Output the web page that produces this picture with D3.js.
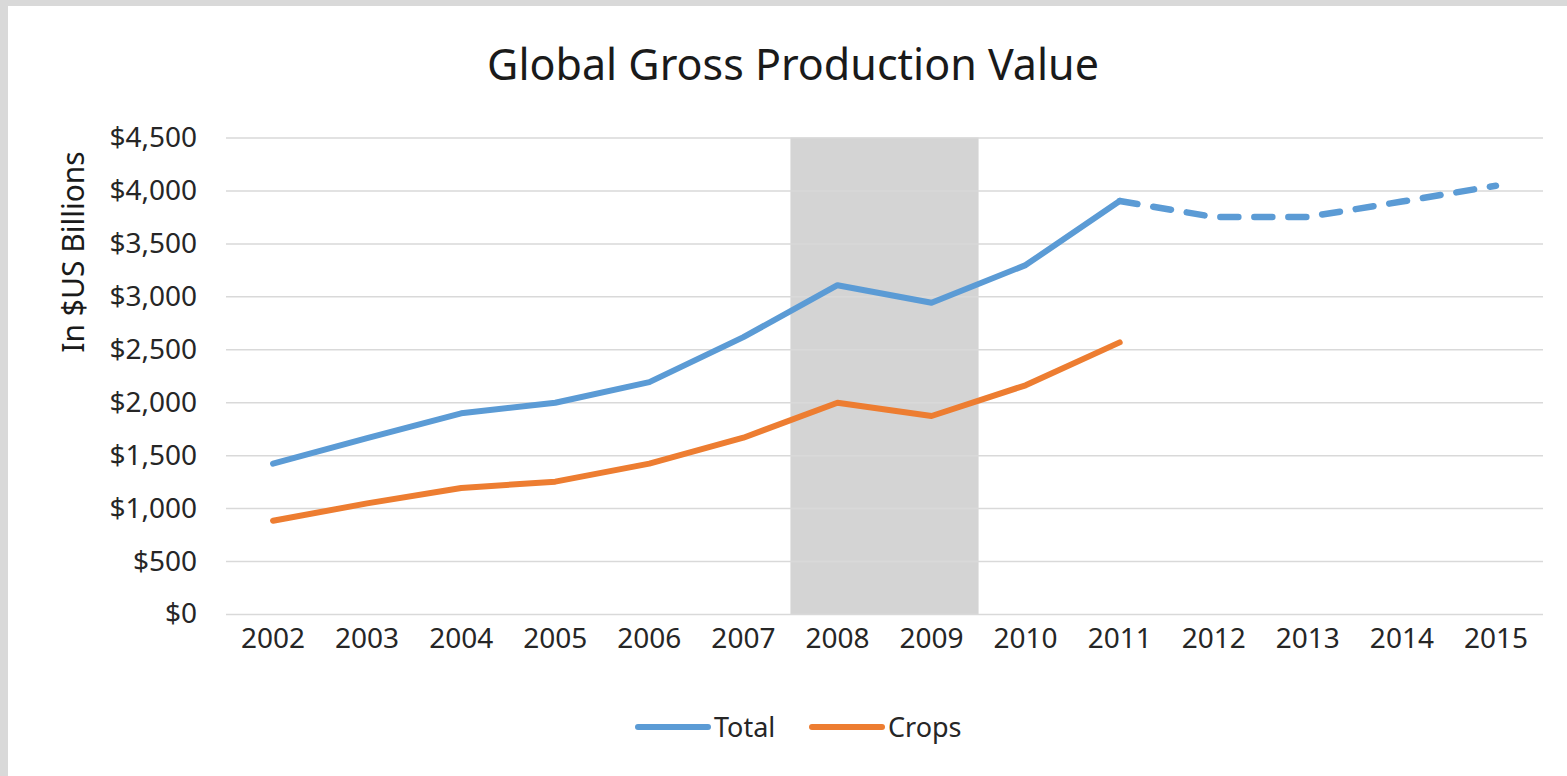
<!DOCTYPE html>
<html>
<head>
<meta charset="utf-8">
<script src="https://cdn.jsdelivr.net/npm/d3@7"></script>
<style>
  body { margin: 0; background: #fff; }
  text { font-family: "Noto Sans", sans-serif; fill: #262626; }
</style>
</head>
<body>
<script>
// chart data
var years = ["2002","2003","2004","2005","2006","2007","2008","2009","2010","2011","2012","2013","2014","2015"];
var totalValues = [1420, 1660, 1895, 1995, 2190, 2615, 3105, 2940, 3295, 3900, 3750, 3750, 3895, 4045];
var cropValues = [880, 1045, 1190, 1250, 1420, 1665, 1995, 1870, 2160, 2565];
var projectionStart = "2011";
var shadedYears = ["2008", "2009"];
var yTicks = [0, 500, 1000, 1500, 2000, 2500, 3000, 3500, 4000, 4500];
var seriesNames = ["Total", "Crops"];

var W = 1567, H = 776;
var blue = "#5b9bd5", orange = "#ed7d31";

var svg = d3.select("body").append("svg")
  .attr("width", W)
  .attr("height", H);

// outer frame
svg.append("rect").attr("width", W).attr("height", H).attr("fill", "#d9d9d9");
svg.append("rect").attr("x", 8).attr("y", 6).attr("width", W - 8).attr("height", H - 6).attr("fill", "#fff");

var x = d3.scaleBand().domain(years).range([226, 1543]).padding(0);
var y = d3.scaleLinear().domain([0, 4500]).range([614, 137.5]);
var cx = function(d) { return x(d) + x.bandwidth() / 2; };

// recession band
svg.append("rect")
  .attr("x", x(shadedYears[0]))
  .attr("y", y(4500))
  .attr("width", x(shadedYears[1]) + x.bandwidth() - x(shadedYears[0]))
  .attr("height", y(0) - y(4500))
  .attr("fill", "#d4d4d4");

// gridlines
var yAxis = d3.axisLeft(y).tickValues(yTicks)
  .tickSize(-(1543 - 226))
  .tickPadding(29)
  .tickFormat(function(d) { return "$" + d3.format(",")(d); });

var gy = svg.append("g").attr("transform", "translate(226,0)").call(yAxis);
gy.select(".domain").remove();
gy.selectAll(".tick line").attr("stroke", "#d9d9d9").attr("stroke-width", 1.5);
gy.selectAll(".tick text").attr("font-size", 28).style("fill", "#262626");

var xAxis = d3.axisBottom(x).tickSize(0).tickPadding(14);
var gx = svg.append("g").attr("transform", "translate(0,614)").call(xAxis);
gx.select(".domain").remove();
gx.selectAll(".tick text").attr("font-size", 28).attr("dy", "0.71em").style("fill", "#262626");

// lines
var line = d3.line()
  .x(function(d) { return cx(d.year); })
  .y(function(d) { return y(d.value); });

var totalData = years.map(function(yr, i) { return { year: yr, value: totalValues[i] }; });
var splitIdx = years.indexOf(projectionStart);

svg.append("path")
  .attr("d", line(totalData.slice(0, splitIdx + 1)))
  .attr("fill", "none").attr("stroke", blue).attr("stroke-width", 6)
  .attr("stroke-linejoin", "round").attr("stroke-linecap", "round");

svg.append("path")
  .attr("d", line(totalData.slice(splitIdx)))
  .attr("fill", "none").attr("stroke", blue).attr("stroke-width", 6.5)
  .attr("stroke-dasharray", "18,16")
  .attr("stroke-linejoin", "round").attr("stroke-linecap", "round");

var cropData = cropValues.map(function(v, i) { return { year: years[i], value: v }; });
svg.append("path")
  .attr("d", line(cropData))
  .attr("fill", "none").attr("stroke", orange).attr("stroke-width", 6)
  .attr("stroke-linejoin", "round").attr("stroke-linecap", "round");

// title
svg.append("text")
  .attr("x", 793).attr("y", 80)
  .attr("text-anchor", "middle")
  .attr("font-size", 43)
  .style("fill", "#1a1a1a")
  .text("Global Gross Production Value");

// y axis title
svg.append("text")
  .attr("transform", "translate(84,252) rotate(-90)")
  .attr("text-anchor", "middle")
  .attr("font-size", 30)
  .style("fill", "#1a1a1a")
  .text("In $US Billions");

// legend
var legend = [
  { name: seriesNames[0], color: blue, x: 636 },
  { name: seriesNames[1], color: orange, x: 810 }
];
var lg = svg.selectAll(".lg").data(legend).enter().append("g")
  .attr("transform", function(d) { return "translate(" + d.x + ",727)"; });
lg.append("line")
  .attr("x1", 2).attr("x2", 72)
  .attr("stroke", function(d) { return d.color; })
  .attr("stroke-width", 6).attr("stroke-linecap", "round");
lg.append("text")
  .attr("x", 78).attr("y", 10)
  .attr("font-size", 27)
  .text(function(d) { return d.name; });
</script>
</body>
</html>
